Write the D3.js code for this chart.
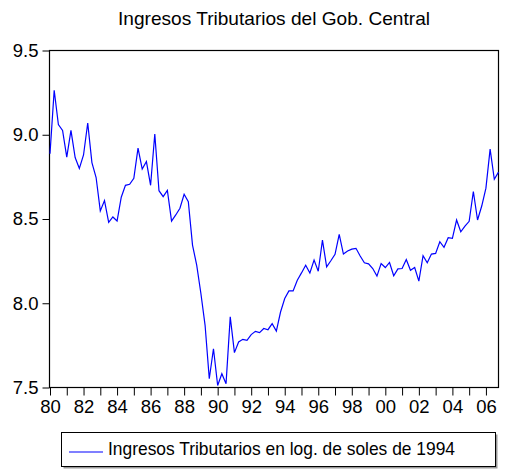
<!DOCTYPE html>
<html>
<head>
<meta charset="utf-8">
<title>Ingresos Tributarios</title>
<script src="https://cdn.jsdelivr.net/npm/d3@7"></script>
<style>
  body { margin: 0; background: #fff; }
  text { font-family: "Liberation Sans", Arial, sans-serif; fill: #000; }
</style>
</head>
<body>
<script>
// quarterly data, 1980Q1 - 2006Q4
var years = d3.range(1980, 2007);
var values = [
  8.887, 9.264, 9.06, 9.026,
  8.867, 9.026, 8.865, 8.80,
  8.88, 9.07, 8.835, 8.746,
  8.548, 8.609, 8.48, 8.512,
  8.488, 8.629, 8.70, 8.706,
  8.742, 8.921, 8.796, 8.841,
  8.70, 9.004, 8.668, 8.633,
  8.67, 8.488, 8.524, 8.564,
  8.647, 8.603, 8.345, 8.226,
  8.058, 7.869, 7.552, 7.730,
  7.512, 7.582, 7.522, 7.919,
  7.707, 7.77, 7.786, 7.78,
  7.814, 7.833, 7.826, 7.85,
  7.843, 7.879, 7.835, 7.948,
  8.028, 8.073, 8.073, 8.137,
  8.18, 8.226, 8.18, 8.256,
  8.19, 8.375, 8.216, 8.252,
  8.29, 8.409, 8.292, 8.31,
  8.321, 8.326, 8.28, 8.24,
  8.234, 8.206, 8.161, 8.236,
  8.212, 8.242, 8.163, 8.204,
  8.206, 8.26, 8.196, 8.212,
  8.131, 8.282, 8.24, 8.292,
  8.296, 8.365, 8.332, 8.389,
  8.385, 8.494, 8.424, 8.458,
  8.486, 8.663, 8.494, 8.577,
  8.683, 8.915, 8.736, 8.778
];
var yTicks = [7.5, 8.0, 8.5, 9.0, 9.5];
var title = "Ingresos Tributarios del Gob. Central";
var seriesName = "Ingresos Tributarios en log. de soles de 1994";

var w = 506, h = 470;
var mLeft = 49.5, mRight = 498.5, mTop = 50.5, mBottom = 387.5;

var svg = d3.select("body").append("svg")
    .attr("width", w)
    .attr("height", h);

var x = d3.scaleLinear().domain([0, values.length - 1]).range([mLeft + 0.5, mRight]);
var y = d3.scaleLinear().domain([7.5, 9.5]).range([mBottom, mTop]);

// title
svg.append("text")
    .attr("x", (mLeft + mRight) / 2)
    .attr("y", 25)
    .attr("text-anchor", "middle")
    .attr("font-size", "19px")
    .attr("textLength", 312)
    .attr("lengthAdjust", "spacingAndGlyphs")
    .text(title);

// y axis
var yAxis = d3.axisLeft(y)
    .tickValues(yTicks)
    .tickFormat(d3.format(".1f"))
    .tickSize(7)
    .tickPadding(4);
var gy = svg.append("g")
    .attr("transform", "translate(" + mLeft + ",0)")
    .call(yAxis);
gy.select(".domain").remove();
gy.selectAll("text").attr("font-size", "18.5px").attr("font-family", "Liberation Sans, Arial, sans-serif");

// x axis: a tick per year, labels every two years
var gx = svg.append("g")
    .attr("transform", "translate(0," + mBottom + ")");
var xAxis = d3.axisBottom(x)
    .tickValues(years.map(function(yr) { return (yr - 1980) * 4; }))
    .tickFormat(function(d) {
        var yr = 1980 + d / 4;
        return yr % 2 === 0 ? String(yr).slice(2) : "";
    })
    .tickSize(8)
    .tickPadding(4);
gx.call(xAxis);
gx.select(".domain").remove();
gx.selectAll("text").attr("font-size", "18.5px").attr("font-family", "Liberation Sans, Arial, sans-serif");

svg.selectAll(".tick line").attr("stroke", "#000");

// frame
svg.append("rect")
    .attr("x", mLeft)
    .attr("y", mTop)
    .attr("width", mRight - mLeft)
    .attr("height", mBottom - mTop)
    .attr("fill", "none")
    .attr("stroke", "#000")
    .attr("stroke-width", 1.2);

// series
var line = d3.line()
    .x(function(d, i) { return x(i); })
    .y(function(d) { return y(d); });

svg.append("path")
    .datum(values)
    .attr("d", line)
    .attr("fill", "none")
    .attr("stroke", "#0000ff")
    .attr("stroke-width", 1.2);

// legend
var lg = svg.append("g");
lg.append("rect")
    .attr("x", 63.5).attr("y", 434.5)
    .attr("width", 434).attr("height", 34)
    .attr("fill", "#999");
lg.append("rect")
    .attr("x", 61.5).attr("y", 432.5)
    .attr("width", 434).attr("height", 34)
    .attr("fill", "#fff")
    .attr("stroke", "#000")
    .attr("stroke-width", 1);
lg.append("line")
    .attr("x1", 69).attr("x2", 103)
    .attr("y1", 452).attr("y2", 452)
    .attr("stroke", "#0000ff")
    .attr("stroke-width", 1.2);
lg.append("text")
    .attr("x", 108)
    .attr("y", 455)
    .attr("font-size", "19px")
    .attr("textLength", 347)
    .attr("lengthAdjust", "spacingAndGlyphs")
    .text(seriesName);
</script>
</body>
</html>
